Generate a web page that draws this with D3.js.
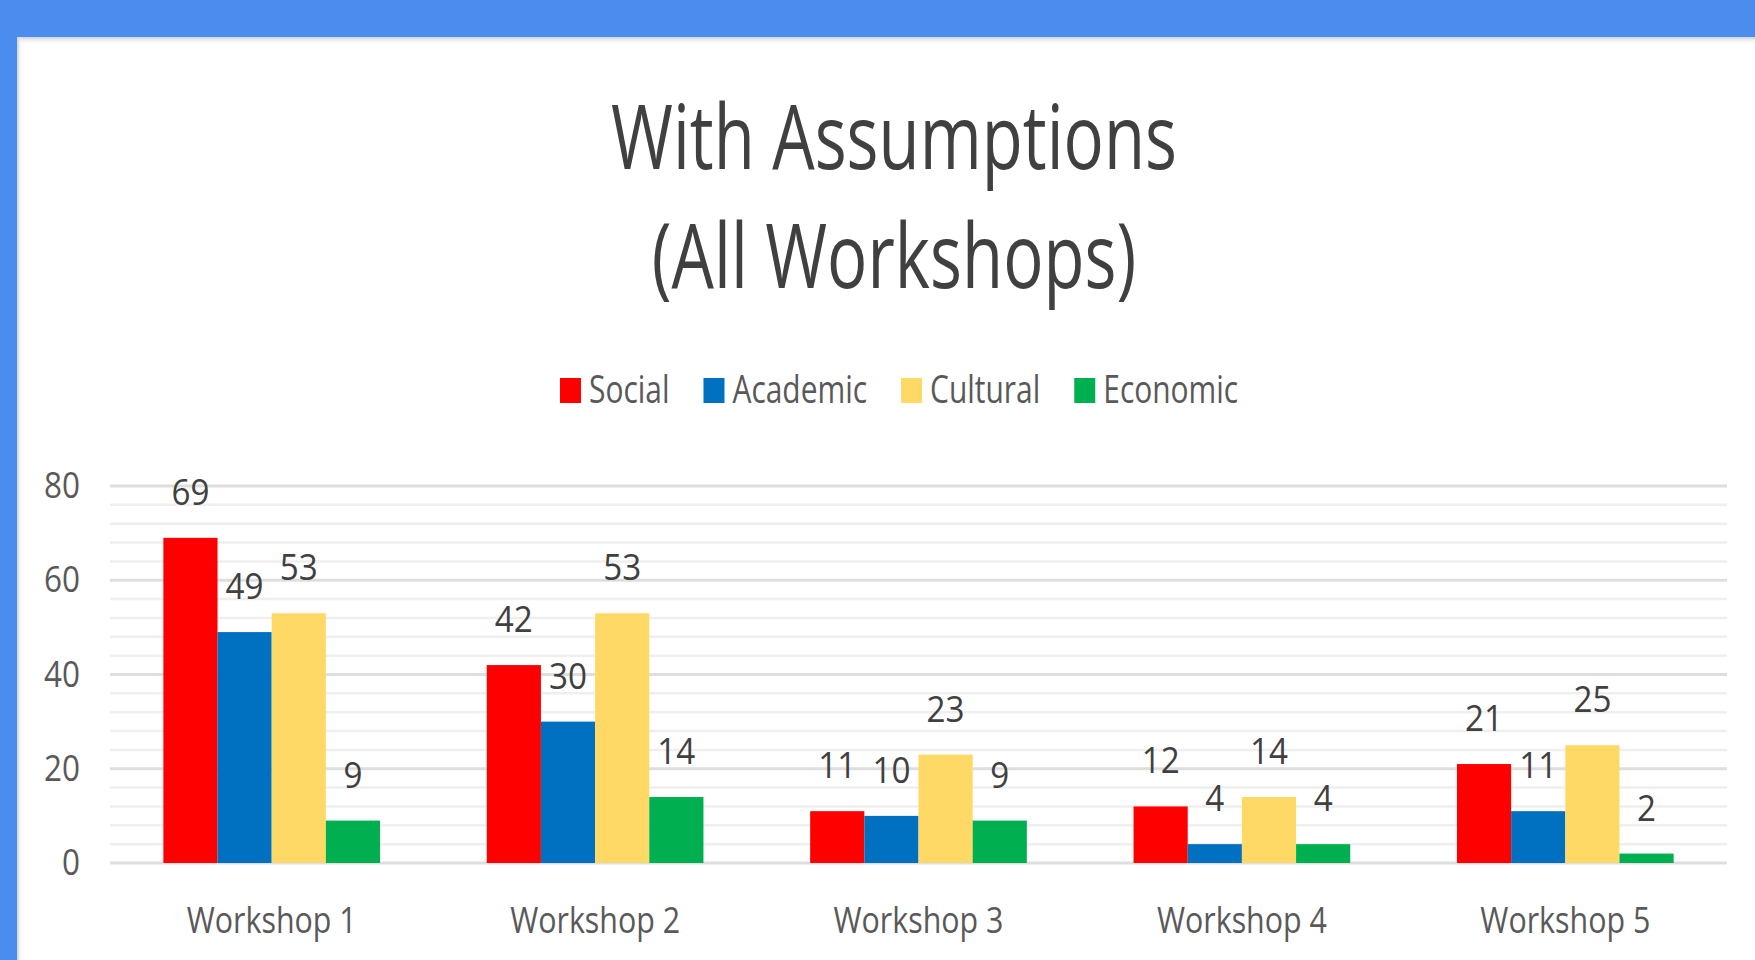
<!DOCTYPE html>
<html>
<head>
<meta charset="utf-8">
<script src="https://cdn.jsdelivr.net/npm/d3@7"></script>
<style>
  html, body { margin: 0; padding: 0; background: #4a8def; overflow: hidden; }
  svg { display: block; }
</style>
</head>
<body>
<svg id="chart" width="1755" height="960"></svg>
<script>
// ---------- data ----------
const titleLines = ["With Assumptions", "(All Workshops)"];
const categories = ["Workshop 1", "Workshop 2", "Workshop 3", "Workshop 4", "Workshop 5"];
const seriesNames = ["Social", "Academic", "Cultural", "Economic"];
const social   = [69, 42, 11, 12, 21];
const academic = [49, 30, 10, 4, 11];
const cultural = [53, 53, 23, 14, 25];
const economic = [9, 14, 9, 4, 2];
const yTickLabels = [0, 20, 40, 60, 80];
const seriesColors = ["#ff0000", "#0070c0", "#ffd966", "#00b050"];

const seriesValues = [social, academic, cultural, economic];
const rows = categories.map((c, i) => ({
  category: c,
  values: seriesNames.map((s, j) => ({ series: s, value: seriesValues[j][i], color: seriesColors[j] }))
}));

// ---------- setup ----------
const W = 1755, H = 960;
const FONT = "'Open Sans', 'Noto Sans', 'DejaVu Sans', sans-serif";
const CAP = 0.714;
const svg = d3.select("#chart");
const defs = svg.append("defs");

// panel with soft shadow on top/left edges
const panelX = 17, panelY = 37;
svg.append("rect").attr("x", 0).attr("y", 0).attr("width", W).attr("height", H).attr("fill", "#4a8def");
svg.append("rect").attr("x", panelX).attr("y", panelY).attr("width", W - panelX).attr("height", H - panelY).attr("fill", "#ffffff");
const gTop = defs.append("linearGradient").attr("id", "shTop").attr("x1", 0).attr("y1", 0).attr("x2", 0).attr("y2", 1);
gTop.append("stop").attr("offset", "0%").attr("stop-color", "#cfcfcf");
gTop.append("stop").attr("offset", "100%").attr("stop-color", "#ffffff").attr("stop-opacity", 0);
const gLeft = defs.append("linearGradient").attr("id", "shLeft").attr("x1", 0).attr("y1", 0).attr("x2", 1).attr("y2", 0);
gLeft.append("stop").attr("offset", "0%").attr("stop-color", "#cfcfcf");
gLeft.append("stop").attr("offset", "100%").attr("stop-color", "#ffffff").attr("stop-opacity", 0);
svg.append("rect").attr("x", panelX).attr("y", panelY).attr("width", W - panelX).attr("height", 8).attr("fill", "url(#shTop)");
svg.append("rect").attr("x", panelX).attr("y", panelY).attr("width", 6).attr("height", H - panelY).attr("fill", "url(#shLeft)");

// text measurement helper (removed after layout)
const measurer = svg.append("text").attr("font-family", FONT).attr("x", 300).attr("y", 300).attr("opacity", 0);
function advance(str, size) {
  measurer.attr("font-size", size).text(str);
  return measurer.node().getComputedTextLength();
}
// font-size and vertical scale so that str spans targetW and has targetCap cap height
function fit(str, targetW, targetCap) {
  const fs = 100 * targetW / advance(str, 100);
  return { fs, sy: targetCap / (CAP * fs) };
}
function addText(parent, str, x, y, f, anchor, color, weight) {
  return parent.append("text")
    .attr("transform", `translate(${x},${y}) scale(1,${f.sy})`)
    .attr("font-family", FONT)
    .attr("font-size", f.fs)
    .attr("font-weight", weight || 400)
    .attr("text-anchor", anchor)
    .attr("fill", color)
    .text(str);
}

// ---------- scales ----------
const plotLeft = 110, plotRight = 1727, plotTop = 486, plotBottom = 863;
const x = d3.scaleBand().domain(categories).range([plotLeft, plotRight]).paddingInner(0.33).paddingOuter(0.165);
const xs = d3.scaleBand().domain(seriesNames).range([0, x.bandwidth()]).padding(0);
const y = d3.scaleLinear().domain([0, 80]).range([plotBottom, plotTop]);

// ---------- title ----------
const fTitle = fit(titleLines[0], 566, 64);
addText(svg, titleLines[0], 894, 169, fTitle, "middle", "#404040");
addText(svg, titleLines[1], 894, 288, fTitle, "middle", "#404040");

// ---------- legend ----------
const fLeg = fit("Social", 80.5, 28);
let lx = 560;
const legend = svg.append("g");
seriesNames.forEach((s, j) => {
  legend.append("rect").attr("x", lx).attr("y", 378).attr("width", 21).attr("height", 25).attr("fill", seriesColors[j]);
  addText(legend, s, lx + 29, 403, fLeg, "start", "#595959");
  lx += 29 + advance(s, fLeg.fs) + 34;
});

// ---------- gridlines ----------
const grid = svg.append("g");
const minor = d3.range(0, 81, 4).filter(v => v % 20 !== 0);
grid.selectAll("line.minor").data(minor).join("line")
  .attr("x1", plotLeft).attr("x2", plotRight)
  .attr("y1", d => y(d)).attr("y2", d => y(d))
  .attr("stroke", "#efefef").attr("stroke-width", 2.5);
grid.selectAll("line.major").data(yTickLabels).join("line")
  .attr("x1", plotLeft).attr("x2", plotRight)
  .attr("y1", d => y(d)).attr("y2", d => y(d))
  .attr("stroke", "#dedede").attr("stroke-width", 3);

// ---------- y axis labels ----------
const fNum = fit("80", 36, 26);
const yAxis = svg.append("g");
yTickLabels.forEach(v => addText(yAxis, String(v), 80, y(v) + 26 / 2 - 1, fNum, "end", "#595959"));

// ---------- bars ----------
const groups = svg.append("g").selectAll("g").data(rows).join("g")
  .attr("transform", d => `translate(${x(d.category)},0)`);
groups.selectAll("rect").data(d => d.values).join("rect")
  .attr("x", d => xs(d.series))
  .attr("y", d => y(d.value))
  .attr("width", xs.bandwidth())
  .attr("height", d => y(0) - y(d.value))
  .attr("fill", d => d.color);

// ---------- data labels ----------
const fLbl = fit("69", 38, 26);
groups.each(function (row) {
  const g = d3.select(this);
  row.values.forEach(d => {
    addText(g, String(d.value), xs(d.series) + xs.bandwidth() / 2, y(d.value) - 33, fLbl, "middle", "#404040");
  });
});

// ---------- x axis labels ----------
const fX = fit("Workshop 1", 170, 26);
categories.forEach(c => addText(svg, c, x(c) + x.bandwidth() / 2, 933, fX, "middle", "#595959"));

measurer.remove();
</script>
</body>
</html>
